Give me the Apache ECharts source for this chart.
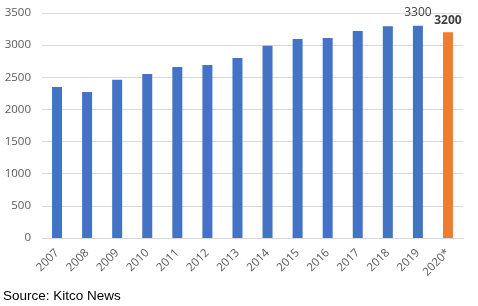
<!DOCTYPE html>
<html><head><meta charset="utf-8">
<script src="https://cdn.jsdelivr.net/npm/echarts@6/dist/echarts.min.js"></script>
<style>html,body{margin:0;padding:0;background:#fff}#c{width:478px;height:306px}</style>
</head><body><div id="c"></div>
<script>
const categories = ['2007','2008','2009','2010','2011','2012','2013','2014','2015','2016','2017','2018','2019','2020*'];
const values = [2350, 2270, 2460, 2550, 2660, 2690, 2800, 2990, 3095, 3110, 3220, 3295, 3300, 3200];
const yTicks = [0, 500, 1000, 1500, 2000, 2500, 3000, 3500];
const sourceText = 'Source: Kitco News';

const FONT = '"Open Sans", "Liberation Sans", Arial, sans-serif';
const chart = echarts.init(document.getElementById('c'), null, {renderer:'canvas'});
const data = values.map((v, i) => {
  const last = i === values.length - 1;
  const item = { value: v, itemStyle: { color: last ? '#ED7D31' : '#4472C4' } };
  if (i === values.length - 2) {
    item.label = { show: true, position: 'top', distance: 7, color: '#404040', fontSize: 12, fontFamily: FONT };
  }
  if (last) {
    item.label = { show: true, position: 'top', distance: 6, color: '#404040', fontWeight: 'bold', fontSize: 12, fontFamily: FONT };
  }
  return item;
});
chart.setOption({
  animation: false,
  grid: { left: 42, right: 15, top: 13, bottom: 68 },
  xAxis: {
    type: 'category', data: categories,
    axisLine: { show: true, lineStyle: { color: '#d9d9d9' } },
    axisTick: { show: false },
    axisLabel: { rotate: 45, interval: 0, color: '#595959', fontSize: 11.5, margin: 13, fontFamily: FONT }
  },
  yAxis: {
    type: 'value', min: yTicks[0], max: yTicks[yTicks.length-1], interval: 500,
    axisLine: { show: false }, axisTick: { show: false },
    splitLine: { lineStyle: { color: '#d9d9d9' } },
    axisLabel: { color: '#595959', fontSize: 11.5, margin: 11, fontFamily: FONT, formatter: v => String(v) }
  },
  series: [{ type: 'bar', barWidth: 10, data: data }],
  graphic: [{ type: 'text', left: 3, top: 289, style: { text: sourceText, fill: '#000', font: '13.5px "Liberation Sans", Arial, sans-serif' } }]
});
</script></body></html>
